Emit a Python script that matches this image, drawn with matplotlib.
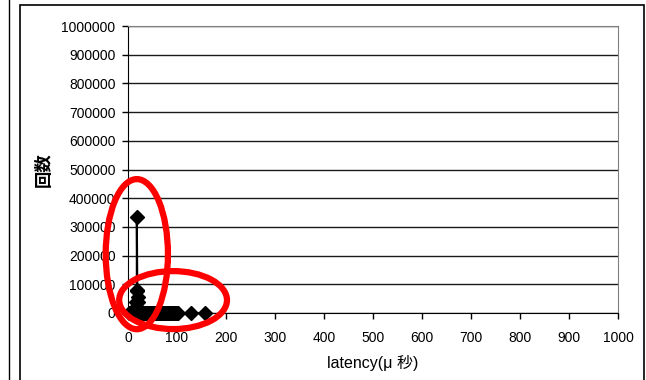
import matplotlib.pyplot as plt
from matplotlib.patches import Ellipse, Rectangle
from matplotlib.lines import Line2D

plt.rcParams['font.family'] = ['Liberation Sans', 'Noto Sans CJK JP', 'DejaVu Sans']

# latency histogram (x = latency in microseconds, y = count)
latency = [2, 6, 10, 13, 15, 16, 17, 18, 18, 19, 20, 21, 22, 23, 24, 26, 28,
           30, 32, 34, 36, 38, 40, 42, 44, 46, 48, 50, 52, 54, 56, 58, 60,
           62, 64, 66, 68, 70, 72, 74, 76, 78, 80, 82, 84, 86, 88, 90, 92,
           94, 96, 98, 100, 102, 128, 158]
counts = [0, 0, 0, 2000, 8000, 20000, 40000, 80000, 335000, 75000, 55000,
          40000, 15000, 5000, 1000, 600, 400, 300, 250, 200, 150, 120, 100,
          90, 80, 70, 60, 50, 40, 40, 30, 30, 20, 20, 20, 10, 10, 10, 10, 10,
          10, 5, 5, 5, 5, 5, 5, 3, 3, 3, 2, 2, 2, 1, 1, 1]

yticks = list(range(0, 1000001, 100000))
xticks = list(range(0, 1001, 100))

fig = plt.figure(figsize=(6.46, 3.8), dpi=100)
W, H = 646, 380
ax = fig.add_axes([128 / W, 1 - 313 / H, 490 / W, 287 / H])

ax.plot(latency, counts, color='black', lw=1.5, marker='D', ms=7,
        mfc='black', mec='black', zorder=3, clip_on=False)

ax.set_xlim(0, 1000)
ax.set_ylim(0, 1000000)
ax.set_xticks(xticks)
ax.set_yticks(yticks)
ax.set_xticklabels([str(v) for v in xticks])
ax.set_yticklabels([str(v) for v in yticks])
ax.tick_params(direction='out', length=4, width=1, colors='black',
               labelsize=10, pad=9)
ax.tick_params(axis='y', pad=5)
ax.grid(axis='y', color='#1a1a1a', lw=1)
ax.set_axisbelow(True)
for s in ['top', 'right']:
    ax.spines[s].set_color('#808080')
for s in ['left', 'bottom']:
    ax.spines[s].set_color('black')

ax.set_xlabel('latency(μ 秒)', fontsize=11.5, labelpad=7)
ax.set_ylabel('回数', fontsize=12.5, fontweight='bold',
              family=['Noto Sans CJK JP', 'DejaVu Sans'])
ax.yaxis.set_label_coords(-0.153, 0.5)

# red hand-drawn marks
ax.add_patch(Ellipse((18, 205000), 127, 523000, fill=False, ec='red',
                     lw=4.5, clip_on=False, zorder=5))
ax.add_patch(Ellipse((92, 45000), 220, 202000, fill=False, ec='red',
                     lw=4.5, clip_on=False, zorder=5))

# page / chart frame
fig.add_artist(Line2D([9 / W, 9 / W], [0, 1], color='black', lw=1))
fig.add_artist(Rectangle((20 / W, -0.05), 624 / W, 1.05 - 5 / H,
                         fill=False, ec='black', lw=1.2))

fig.savefig('out.png', dpi=100)
